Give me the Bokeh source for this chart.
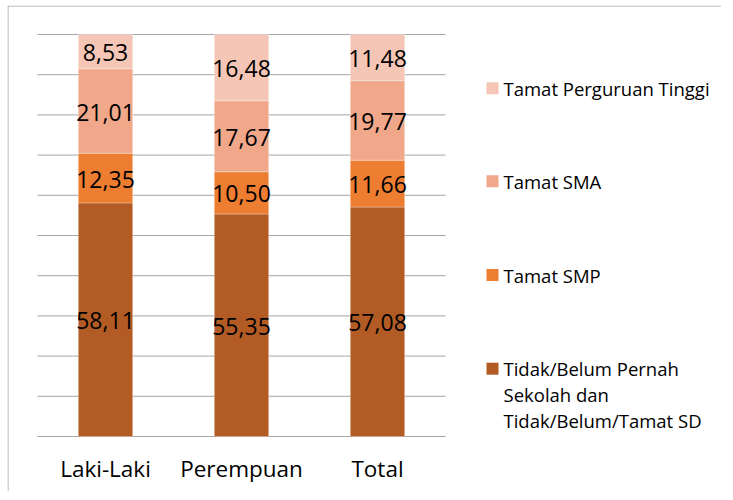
from bokeh.plotting import figure
from bokeh.models import ColumnDataSource
from bokeh.core.properties import value
from bokeh.embed import file_html
from bokeh.resources import INLINE

# ---- data ----
categories = ["Laki-Laki", "Perempuan", "Total"]
series_keys = ["sd", "smp", "sma", "pt"]
series_names = ["Tidak/Belum Pernah\nSekolah dan\nTidak/Belum/Tamat SD",
                "Tamat SMP", "Tamat SMA", "Tamat Perguruan Tinggi"]
sd = [58.11, 55.35, 57.08]
smp = [12.35, 10.50, 11.66]
sma = [21.01, 17.67, 19.77]
pt = [8.53, 16.48, 11.48]
grid_ticks = [0, 10, 20, 30, 40, 50, 60, 70, 80, 90, 100]

# ---- styling / layout (pixels, canvas coordinates) ----
colors = ["#B25B24", "#ED7D31", "#F0A78A", "#F5C6B5"]
FONT = "Open Sans"
W, H = 714, 486
PLOT_LEFT = 30          # left edge of plot area
CAT_PX = 136            # px per category
ZERO_Y = 431            # y of value 0
UNIT_PX = 4.02          # px per percent
LEG_SQ_X = 485          # legend square centre
LEG_TX_X = 496          # legend text start
LEG_SQ_Y = [82.7, 175.7, 269.5, 363.2]   # top to bottom
LEG_TX_Y = [82.7, 175.7, 269.5, 389.2]

def xd(px):
    return (px - PLOT_LEFT) / CAT_PX

def yd(py):
    return (ZERO_Y - py) / UNIT_PX

series_values = [sd, smp, sma, pt]
xc = [i + 0.5 for i in range(len(categories))]
src = ColumnDataSource(dict(x=xc, sd=sd, smp=smp, sma=sma, pt=pt))

p = figure(x_range=(xd(0), xd(W)), y_range=(yd(H), yd(0)),
           width=W, height=H, output_backend="svg", toolbar_location=None,
           min_border=0)
p.styles = {"margin-left": "7px", "margin-top": "5px"}
p.axis.visible = False
p.grid.visible = False
p.outline_line_color = None

# chart frame (left and top edges)
p.segment(x0=[xd(0.5), xd(0.5)], y0=[yd(0.5), yd(0.5)],
          x1=[xd(W), xd(0.5)], y1=[yd(0.5), yd(H)],
          line_color="#a6a6a6", line_width=1)

# gridlines across the plot area
p.segment(x0=0, x1=len(categories), y0=grid_ticks, y1=grid_ticks,
          line_color="#a6a6a6", line_width=1)

renderers = p.vbar_stack(series_keys, x="x", width=0.4, color=colors,
                         source=src, line_color="white", line_width=0.6,
                         line_alpha=0.5)

# data labels at segment centres
lx, ly, lt = [], [], []
for i, c in enumerate(xc):
    base = 0.0
    for vals in series_values:
        v = vals[i]
        lx.append(c)
        ly.append(base + v / 2)
        lt.append(f"{v:.2f}".replace(".", ","))
        base += v
p.text(x=lx, y=ly, text=lt, text_align="center", text_baseline="middle",
       text_font=value(FONT), text_font_size="23px", text_color="#000000",
       y_offset=1)

# category labels
p.text(x=xc, y=[0] * len(xc), text=categories, text_align="center",
       text_baseline="middle", text_font=value(FONT), text_font_size="22.5px",
       text_color="#000000", y_offset=32)

# legend (top item = last series)
order = list(reversed(range(len(series_names))))
p.rect(x=[xd(LEG_SQ_X)] * 4, y=[yd(v) for v in LEG_SQ_Y], width=12, height=12,
       width_units="screen", height_units="screen",
       fill_color=[colors[i] for i in order], line_color=None)
p.text(x=[xd(LEG_TX_X)] * 4, y=[yd(v) for v in LEG_TX_Y],
       text=[series_names[i] for i in order], text_align="left",
       text_baseline="middle", text_font=value(FONT), text_font_size="18.5px",
       text_line_height=1.03, text_color="#000000")

open("out.html", "w").write(file_html(p, INLINE))
